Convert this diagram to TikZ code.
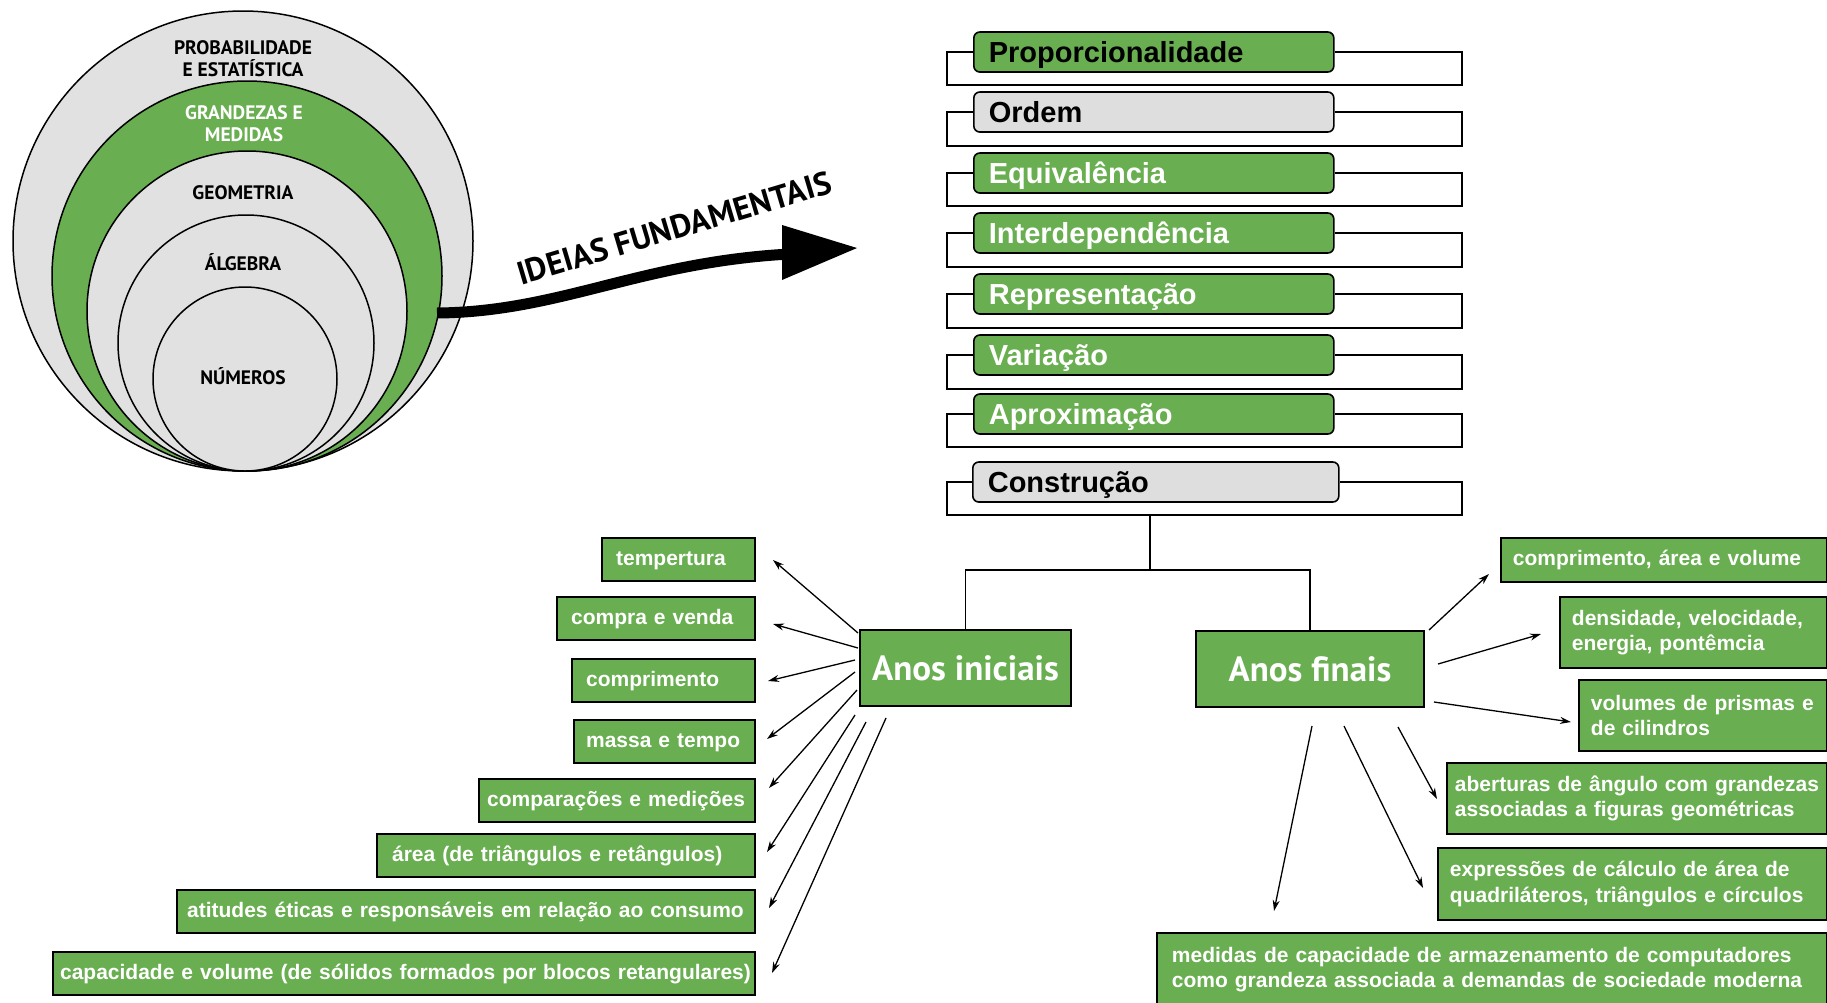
\documentclass[tikz,border=0pt]{standalone}
\usepackage{fontspec}
\setmainfont{Liberation Sans}
\newfontfamily\myr{PT Sans}
\usetikzlibrary{arrows.meta}
\definecolor{gr}{RGB}{105,174,80}
\definecolor{lg}{RGB}{225,225,225}
\definecolor{bx}{RGB}{222,222,222}
\tikzset{
  ring/.style={circle, draw, line width=1.5pt, inner sep=0pt},
  clab/.style={font=\myr\bfseries\fontsize{19.5}{22}\selectfont, align=center, inner sep=0pt},
  idea/.style={draw, line width=1.6pt, rounded corners=6pt, minimum height=40pt, anchor=west,
    inner xsep=15pt, inner ysep=0pt, text height=21pt, text depth=0pt, text width=330pt, align=left,
    font=\bfseries\fontsize{29}{34}\selectfont},
  gidea/.style={idea, fill=gr, text=white},
  bidea/.style={idea, fill=gr, text=black},
  widea/.style={idea, fill=bx, text=black},
  br/.style={line width=1.5pt},
  anos/.style={draw, line width=2pt, fill=gr, text=white, inner sep=0pt,
    font=\myr\bfseries\fontsize{35}{40}\selectfont},
  item/.style={draw, line width=1.8pt, fill=gr, text=white, inner ysep=0pt,
    align=left, font=\bfseries\fontsize{21}{25.5}\selectfont},
  litem/.style={item, anchor=east, minimum height=43pt, text height=11pt, text depth=0pt},
  ritem/.style={item, anchor=west, inner xsep=12pt},
  arr/.style={line width=1.3pt, -{Stealth[length=11pt,width=7pt]}}
}
\begin{document}
\begin{tikzpicture}[x=1pt,y=-1pt]
\useasboundingbox[fill=white] (0,0) rectangle (1827,1002);

% nested circles
\node[ring, fill=lg, minimum size=460pt] (cpe) at (243,241) {};
\node[ring, fill=gr, minimum size=390pt] (cgm) at (247,276) {};
\node[ring, fill=lg, minimum size=320pt] (cgeo) at (247,311) {};
\node[ring, fill=lg, minimum size=256pt] (calg) at (246,343) {};
\node[ring, fill=lg, minimum size=184pt] (cnum) at (245,379) {};
\node[clab] (tpe) at (243,59) {PROBABILIDADE\\E ESTATÍSTICA};
\node[clab, text=white] (tgm) at (244,124) {GRANDEZAS E\\MEDIDAS};
\node[clab] (tgeo) at (243,193) {GEOMETRIA};
\node[clab] (talg) at (243,262) {ÁLGEBRA};
\node[clab] (tnum) at (243,376) {NÚMEROS};

% big arrow
\coordinate (as) at (437,313);
\coordinate (ae) at (790,254);
\draw[line width=11pt] (as) .. controls (560,312) and (640,262) .. (ae);
\fill (782,225) -- (857,248) -- (782,280) -- cycle;
\node[font=\myr\bfseries\fontsize{32.5}{36}\selectfont, rotate=16.6, inner sep=0pt] (tif) at (674,228) {IDEIAS FUNDAMENTAIS};

% ideas column
\node[bidea] (p1) at (973,52) {Proporcionalidade};
\node[widea] (p2) at (973,112) {Ordem};
\node[gidea] (p3) at (973,173) {Equivalência};
\node[gidea] (p4) at (973,233) {Interdependência};
\node[gidea] (p5) at (973,294) {Representação};
\node[gidea] (p6) at (973,355) {Variação};
\node[gidea] (p7) at (973,414) {Aproximação};
\node[widea, text width=336pt] (p8) at (972,482) {Construção};

\draw[br] (p1.west) -| (947,85) -- (1462,85) |- (p1.east);
\draw[br] (p2.west) -| (947,146) -- (1462,146) |- (p2.east);
\draw[br] (p3.west) -| (947,206) -- (1462,206) |- (p3.east);
\draw[br] (p4.west) -| (947,267) -- (1462,267) |- (p4.east);
\draw[br] (p5.west) -| (947,328) -- (1462,328) |- (p5.east);
\draw[br] (p6.west) -| (947,389) -- (1462,389) |- (p6.east);
\draw[br] (p7.west) -| (947,447) -- (1462,447) |- (p7.east);
\draw[br] (p8.west) -| (947,515) -- (1462,515) |- (p8.east);

% branch
\node[anos, minimum width=211pt, minimum height=76pt] (ai) at (965.5,668) {Anos iniciais};
\node[anos, minimum width=228pt, minimum height=76pt] (af) at (1310,669) {Anos finais};
\coordinate (j) at (1150,570);
\coordinate (jt) at (1150,515);
\draw[br] (jt) -- (j);
\draw[br] (ai.north) |- (j);
\draw[br] (af.north) |- (j);

% left items
\node[litem, inner xsep=14pt, text width=125pt] (l1) at (756,559.5) {\mbox{tempertura}};
\node[litem, inner xsep=14pt, text width=170pt] (l2) at (756,618.5) {\mbox{compra e venda}};
\node[litem, inner xsep=14pt, text width=155pt] (l3) at (756,680.5) {\mbox{comprimento}};
\node[litem, inner xsep=12pt, text width=157pt] (l4) at (756,741.5) {\mbox{massa e tempo}};
\node[litem, inner xsep=8pt, text width=260pt] (l5) at (756,800.5) {\mbox{comparações e medições}};
\node[litem, inner xsep=15pt, text width=348pt] (l6) at (756,855.5) {\mbox{área (de triângulos e retângulos)}};
\node[litem, inner xsep=10pt, text width=558pt] (l7) at (756,911.5) {\mbox{atitudes éticas e responsáveis em relação ao consumo}};
\node[litem, inner xsep=7pt, text width=688pt] (l8) at (756,973.5) {\mbox{capacidade e volume (de sólidos formados por blocos retangulares)}};

\coordinate (s1) at (858,633);  \coordinate (e1) at (773,560);
\coordinate (s2) at (858,648);  \coordinate (e2) at (773,624);
\coordinate (s3) at (855,660);  \coordinate (e3) at (768,681);
\coordinate (s4) at (855,672);  \coordinate (e4) at (767,739);
\coordinate (s5) at (857,690);  \coordinate (e5) at (769,788);
\coordinate (s6) at (855,715);  \coordinate (e6) at (767,852);
\coordinate (s7) at (866,722);  \coordinate (e7) at (769,908);
\coordinate (s8) at (886,718);  \coordinate (e8) at (772,973);
\foreach \i in {1,...,8} { \draw[arr] (s\i) -- (e\i); }

% right items
\node[ritem, minimum width=326pt, minimum height=44pt, text width=302pt] (r1) at (1500,560) {\mbox{comprimento, área e volume}};
\node[ritem, minimum width=267pt, minimum height=71pt, text width=243pt] (r2) at (1559,632.5) {\mbox{densidade, velocidade,}\\\mbox{energia, pontêmcia}};
\node[ritem, minimum width=248pt, minimum height=71pt, text width=224pt] (r3) at (1578,715.5) {\mbox{volumes de prismas e}\\\mbox{de cilindros}};
\node[ritem, minimum width=380pt, minimum height=71pt, text width=364pt, inner xsep=8pt] (r4) at (1446,798.5) {\mbox{aberturas de ângulo com grandezas}\\\mbox{associadas a figuras geométricas}};
\node[ritem, minimum width=389pt, minimum height=72pt, text width=365pt] (r5) at (1437,884) {\mbox{expressões de cálculo de área de}\\\mbox{quadriláteros, triângulos e círculos}};
\node[ritem, minimum width=670pt, minimum height=73pt, text width=640pt, inner xsep=15pt] (r6) at (1156,969.5) {\mbox{medidas de capacidade de armazenamento de computadores}\\\mbox{como grandeza associada a demandas de sociedade moderna}};

\coordinate (t1) at (1429,630); \coordinate (u1) at (1489,574);
\coordinate (t2) at (1438,664); \coordinate (u2) at (1541,634);
\coordinate (t3) at (1434,702); \coordinate (u3) at (1571,722);
\coordinate (t4) at (1398,727); \coordinate (u4) at (1437,799);
\coordinate (t5) at (1344,726); \coordinate (u5) at (1423,888);
\coordinate (t6) at (1312,726); \coordinate (u6) at (1274,911);
\foreach \i in {1,...,6} { \draw[arr] (t\i) -- (u\i); }
\end{tikzpicture}
\end{document}
